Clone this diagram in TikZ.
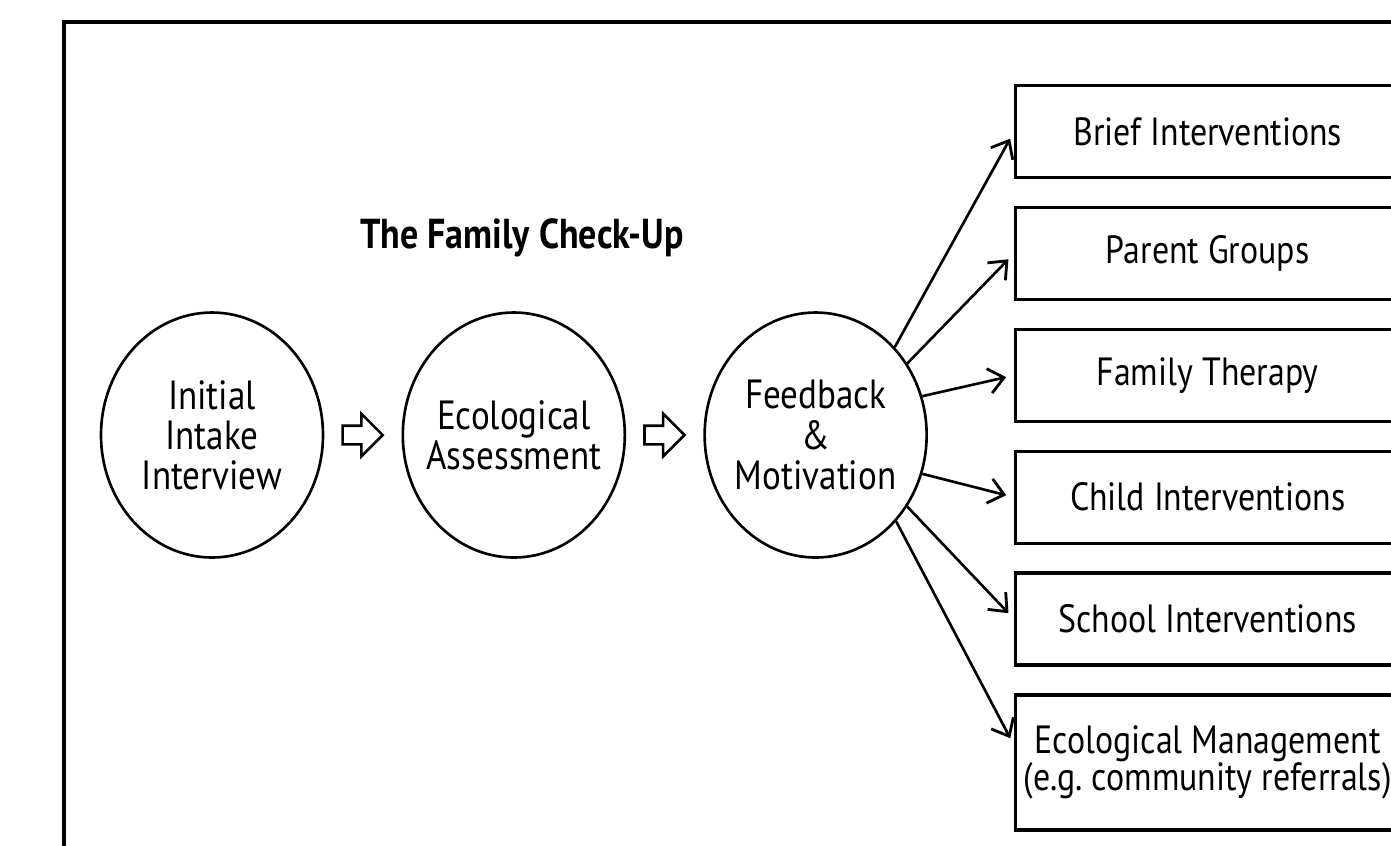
\documentclass[tikz,border=0pt]{standalone}
\usepackage{fontspec}
\setsansfont[FakeStretch=0.86]{PT Sans}
\usepackage{tikz}
\usetikzlibrary{shapes.geometric, shapes.arrows, arrows.meta, positioning}
\tikzset{
    fcstage/.style={ellipse, draw=black, line width=0.75pt, minimum width=2.22cm, minimum height=2.45cm, inner xsep=-0.3cm, inner ysep=0pt, align=center, font=\sffamily\fontsize{11.6}{11.4}\selectfont},
    fcbox/.style={rectangle, draw=black, line width=0.95pt, minimum width=3.84cm, minimum height=#1, inner sep=0pt, align=center, font=\sffamily\fontsize{11.2}{10.8}\selectfont},
    fcbox/.default=0.92cm,
    fcarrow/.style={-{Straight Barb[length=1.5mm, width=2.5mm, line width=0.8pt]}, line width=0.75pt, shorten >=0.08cm},
    fchollow/.style={single arrow, draw=black, fill=white, line width=0.75pt, minimum height=0.40cm, inner xsep=0pt, inner ysep=0.08cm, single arrow head extend=0.12cm},
    fctitle/.style={font=\sffamily\bfseries\fontsize{11.9}{13}\selectfont},
    fcframe/.style={draw=black, line width=1.1pt}
}

\begin{document}
\begin{tikzpicture}[node distance=0.265cm and 0.17cm]
\useasboundingbox (0,0) rectangle (13.91,-8.45);
\clip (0,0) rectangle (13.91,-8.45);

% outer frame, runs on past the right and bottom edges
\draw[fcframe] (0.64,-0.22) rectangle (14.20,-8.60);

\node[fctitle, anchor=base] (title) at (5.22,-2.48) {The Family Check-Up};

% the three stages of the check-up
\node[fcstage] (c1) at (2.12,-4.35) {Initial\\Intake\\Interview};
\node[fchollow, right=of c1] (h1) {};
\node[fcstage, right=of h1] (c2) {Ecological\\Assessment};
\node[fchollow, right=of c2] (h2) {};
\node[fcstage, right=of h2] (c3) {Feedback\\\&\\Motivation};

% intervention menu
\node[fcbox, anchor=north west] (b1) at (10.14,-0.84) {Brief Interventions};
\node[fcbox, below=of b1] (b2) {Parent Groups};
\node[fcbox, below=of b2] (b3) {Family Therapy};
\node[fcbox, below=of b3] (b4) {Child Interventions};
\node[fcbox, below=of b4] (b5) {School Interventions};
\node[fcbox=1.35cm, below=of b5] (b6) {Ecological Management\\(e.g.\ community referrals)};

\draw[fcarrow] (c3.48) -- (b1.west);
\draw[fcarrow] (c3.38) -- (b2.west);
\draw[fcarrow] (c3.20) -- (b3.west);
\draw[fcarrow] (c3.-20) -- (b4.west);
\draw[fcarrow] (c3.-38) -- (b5.west);
\draw[fcarrow] (c3.-47) -- ([yshift=0.17cm]b6.west);

\end{tikzpicture}
\end{document}
